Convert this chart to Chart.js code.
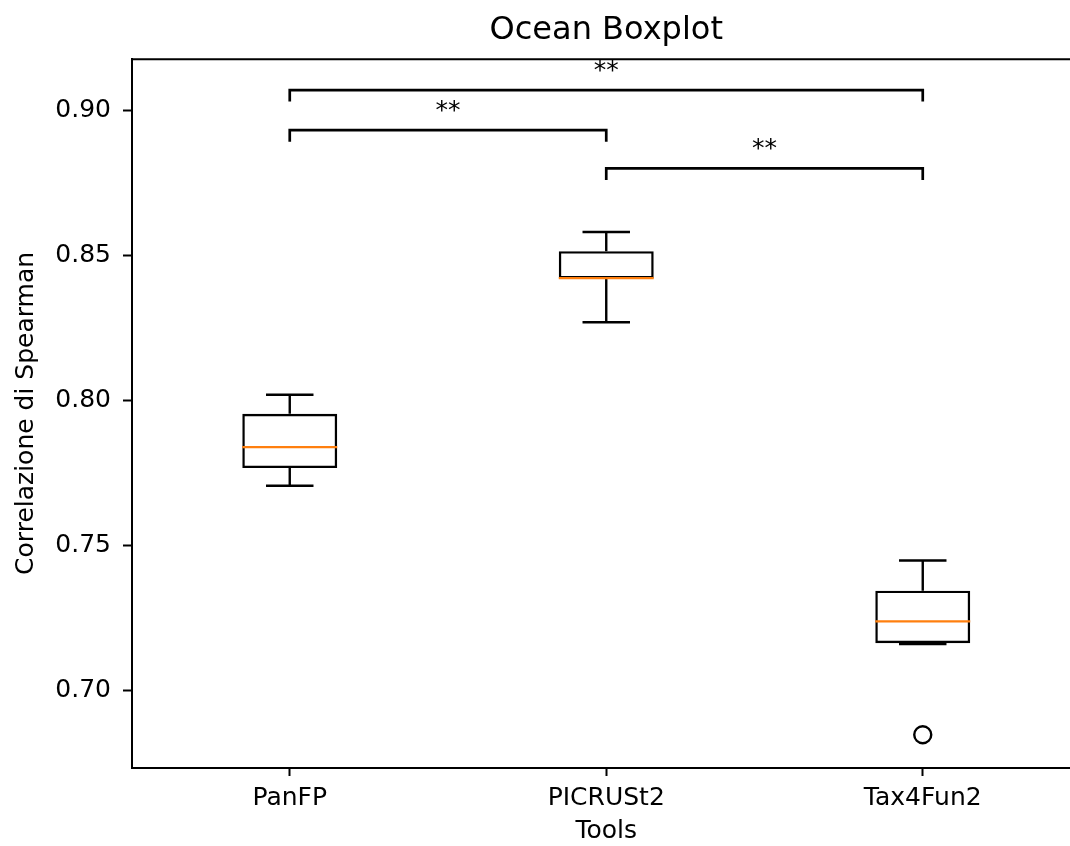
<!DOCTYPE html>
<html>
<head>
<meta charset="utf-8">
<title>Ocean Boxplot</title>
<script src="https://cdn.jsdelivr.net/npm/chart.js@4.4.1/dist/chart.umd.min.js"></script>
<style>
  html, body { margin: 0; padding: 0; overflow: hidden; background: #fff; }
  canvas { display: block; }
</style>
</head>
<body>
<canvas id="boxChart" width="1070" height="846"></canvas>
<script>
// Box statistics (one entry per tool)
const tools = ["PanFP", "PICRUSt2", "Tax4Fun2"];
const whiskerLow = [0.7706, 0.8270, 0.7160];
const q1 = [0.7767, 0.8421, 0.7163];
const medians = [0.7839, 0.8422, 0.7238];
const q3 = [0.7954, 0.8515, 0.7344];
const whiskerHigh = [0.8020, 0.8581, 0.7448];

// Fliers
const outlierTool = [3];
const outlierValue = [0.6847];

// Significance brackets
const bracketFrom = [1, 1, 2];
const bracketTo = [3, 2, 3];
const bracketLevel = [0.9071, 0.8933, 0.8801];
const bracketLabel = ["**", "**", "**"];
const BRACKET_DROP = 0.004;

// Axis
const yTicks = [0.70, 0.75, 0.80, 0.85, 0.90];
const Y_MIN = 0.6734;
const Y_MAX = 0.9177;

// Styles
const BOX_WIDTH = 0.3;
const CAP_WIDTH = 0.15;
const LINE_W = 2.4;
const MEDIAN_COLOR = "#ff7f0e";
const FONT = "DejaVu Sans";
const PLOT_OVERHANG = 11; // the original plot is cut off on the right

Chart.defaults.font.family = FONT;
Chart.defaults.color = "#000";

// let the plot area run past the right edge of the canvas
const widenPlot = {
  id: "widenPlot",
  afterLayout(chart) {
    const right = chart.width + PLOT_OVERHANG;
    chart.chartArea.right = right;
    chart.chartArea.width = right - chart.chartArea.left;
    const x = chart.scales.x;
    x.right = right;
    x.width = right - x.left;
    x.configure();
    if (chart.titleBlock) {
      chart.titleBlock.right = right;
      chart.titleBlock.width = right - chart.titleBlock.left;
    }
  }
};

// whiskers, caps, medians, top spine and brackets
const boxParts = {
  id: "boxParts",
  afterDatasetsDraw(chart) {
    const { ctx, chartArea } = chart;
    const x = chart.scales.x;
    const y = chart.scales.y;
    ctx.save();
    ctx.lineCap = "butt";

    tools.forEach(function (tool, i) {
      const cx = x.getPixelForValue(i + 1);
      const capHalf = x.getPixelForValue(i + 1 + CAP_WIDTH / 2) - cx;
      const boxHalf = x.getPixelForValue(i + 1 + BOX_WIDTH / 2) - cx;

      ctx.strokeStyle = "#000";
      ctx.lineWidth = LINE_W;
      ctx.beginPath();
      ctx.moveTo(cx, y.getPixelForValue(q3[i]));
      ctx.lineTo(cx, y.getPixelForValue(whiskerHigh[i]));
      ctx.moveTo(cx, y.getPixelForValue(q1[i]));
      ctx.lineTo(cx, y.getPixelForValue(whiskerLow[i]));
      ctx.moveTo(cx - capHalf, y.getPixelForValue(whiskerHigh[i]));
      ctx.lineTo(cx + capHalf, y.getPixelForValue(whiskerHigh[i]));
      ctx.moveTo(cx - capHalf, y.getPixelForValue(whiskerLow[i]));
      ctx.lineTo(cx + capHalf, y.getPixelForValue(whiskerLow[i]));
      ctx.stroke();

      ctx.strokeStyle = MEDIAN_COLOR;
      ctx.beginPath();
      ctx.moveTo(cx - boxHalf, y.getPixelForValue(medians[i]));
      ctx.lineTo(cx + boxHalf, y.getPixelForValue(medians[i]));
      ctx.stroke();
    });

    // brackets
    ctx.strokeStyle = "#000";
    ctx.fillStyle = "#000";
    ctx.lineWidth = 2.7;
    ctx.font = "25px '" + FONT + "'";
    ctx.textAlign = "center";
    ctx.textBaseline = "alphabetic";
    bracketFrom.forEach(function (from, i) {
      const x1 = x.getPixelForValue(from);
      const x2 = x.getPixelForValue(bracketTo[i]);
      const top = y.getPixelForValue(bracketLevel[i]);
      const foot = y.getPixelForValue(bracketLevel[i] - BRACKET_DROP);
      ctx.beginPath();
      ctx.moveTo(x1, foot);
      ctx.lineTo(x1, top);
      ctx.lineTo(x2, top);
      ctx.lineTo(x2, foot);
      ctx.stroke();
      ctx.fillText(bracketLabel[i], (x1 + x2) / 2, top - 12);
    });

    // top spine
    ctx.lineWidth = 2;
    ctx.beginPath();
    ctx.moveTo(chartArea.left, chartArea.top);
    ctx.lineTo(chartArea.right, chartArea.top);
    ctx.stroke();
    ctx.restore();
  }
};

window.onload = function () {
  const ctx = document.getElementById("boxChart").getContext("2d");
  new Chart(ctx, {
    data: {
      datasets: [
        {
          type: "bar",
          label: "IQR",
          data: tools.map(function (t, i) { return { x: i + 1, y: [q1[i], q3[i]] }; }),
          backgroundColor: "rgba(0,0,0,0)",
          borderColor: "#000",
          borderWidth: LINE_W,
          borderSkipped: false,
          categoryPercentage: 1,
          barPercentage: BOX_WIDTH,
          order: 2
        },
        {
          type: "scatter",
          label: "Outliers",
          data: outlierTool.map(function (t, i) { return { x: t, y: outlierValue[i] }; }),
          pointStyle: "circle",
          pointRadius: 8.5,
          pointBorderWidth: LINE_W,
          pointBorderColor: "#000",
          pointBackgroundColor: "rgba(0,0,0,0)",
          order: 1
        }
      ]
    },
    options: {
      responsive: false,
      animation: false,
      devicePixelRatio: 1,
      layout: { padding: 0 },
      plugins: {
        legend: { display: false },
        tooltip: { enabled: false },
        title: {
          display: true,
          text: "Ocean Boxplot",
          fullSize: false,
          color: "#000",
          font: { size: 32, weight: "normal", family: FONT, lineHeight: 1.2 },
          padding: { top: 11.2, bottom: 9.7 }
        }
      },
      scales: {
        x: {
          type: "linear",
          min: 0.5,
          max: 3.5,
          offset: false,
          afterBuildTicks: function (scale) {
            scale.ticks = tools.map(function (t, i) { return { value: i + 1 }; });
          },
          afterFit: function (scale) { scale.height = 78.5; },
          ticks: {
            autoSkip: false,
            maxRotation: 0,
            padding: 7,
            color: "#000",
            font: { size: 25, family: FONT },
            callback: function (value, index) { return tools[index]; }
          },
          grid: { offset: false, drawOnChartArea: false, drawTicks: true, tickLength: 8.5, tickWidth: 2, tickColor: "#000" },
          border: { display: true, color: "#000", width: 2 },
          title: {
            display: true,
            text: "Tools",
            color: "#000",
            font: { size: 25, family: FONT, lineHeight: 1.2 },
            padding: { top: 0, bottom: 0 }
          }
        },
        y: {
          type: "linear",
          min: Y_MIN,
          max: Y_MAX,
          afterBuildTicks: function (scale) {
            scale.ticks = yTicks.map(function (v) { return { value: v }; });
          },
          afterFit: function (scale) { scale.width = 131.5; },
          ticks: {
            padding: 12,
            color: "#000",
            font: { size: 25, family: FONT },
            callback: function (value) { return Number(value).toFixed(2); }
          },
          grid: { drawOnChartArea: false, drawTicks: true, tickLength: 8.5, tickWidth: 2, tickColor: "#000" },
          border: { display: true, color: "#000", width: 2 },
          title: {
            display: true,
            text: "Correlazione di Spearman",
            color: "#000",
            font: { size: 25, family: FONT, lineHeight: 1.2 },
            padding: { top: 11, bottom: 0 }
          }
        }
      }
    },
    plugins: [widenPlot, boxParts]
  });
};
</script>
</body>
</html>
